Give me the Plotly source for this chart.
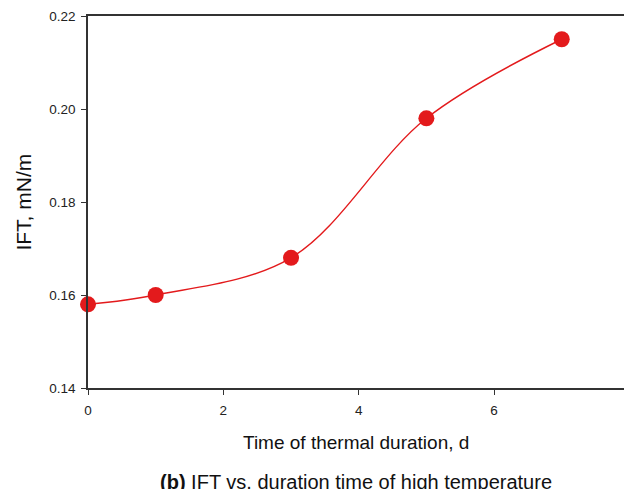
import plotly.graph_objects as go

days = [0, 1, 3, 5, 7]
ift = [0.158, 0.160, 0.168, 0.198, 0.215]
x_ticks = [0, 2, 4, 6]
y_ticks = [0.14, 0.16, 0.18, 0.20, 0.22]

red = "#e31a1c"
fig = go.Figure()
fig.add_trace(go.Scatter(
    x=days, y=ift, mode="lines+markers",
    line=dict(color=red, width=1.4, shape="spline", smoothing=1.0),
    marker=dict(color=red, size=16, line=dict(width=0)),
    cliponaxis=False, showlegend=False))

font = "Liberation Sans, Arial, sans-serif"
fig.update_layout(
    width=624, height=489,
    margin=dict(l=88, r=0, t=16, b=101),
    paper_bgcolor="white", plot_bgcolor="white",
    font=dict(family=font, color="#222", size=13.5),
    xaxis=dict(range=[0, 7.92], tickvals=x_ticks, ticktext=[str(v) for v in x_ticks],
               showline=True, linecolor="#333", linewidth=1.5, mirror=True,
               ticks="outside", ticklen=5, tickcolor="#333", tickwidth=1,
               ticklabelstandoff=4,
               showgrid=False, zeroline=False, tickfont=dict(size=13.5)),
    yaxis=dict(range=[0.14, 0.22], tickvals=y_ticks,
               ticktext=[f"{v:.2f}" for v in y_ticks],
               showline=True, linecolor="#333", linewidth=1.5, mirror=False,
               ticks="outside", ticklen=5, tickcolor="#333", tickwidth=1,
               ticklabelstandoff=3,
               showgrid=False, zeroline=False, tickfont=dict(size=13.5)),
    annotations=[
        dict(text="Time of thermal duration, d", x=0.5, y=-0.146, xref="paper", yref="paper",
             xanchor="center", yanchor="middle", showarrow=False,
             font=dict(size=19, color="#111")),
        dict(text="IFT, mN/m", x=-0.122, y=0.5, xref="paper", yref="paper",
             xanchor="center", yanchor="middle", textangle=-90, showarrow=False,
             font=dict(size=21, color="#111")),
        dict(text="<b>(b)</b> IFT vs. duration time of high temperature", x=0.5, y=-0.252,
             xref="paper", yref="paper", xanchor="center", yanchor="middle",
             showarrow=False, font=dict(size=20, color="#111")),
    ],
)
fig.write_html("out.html")
